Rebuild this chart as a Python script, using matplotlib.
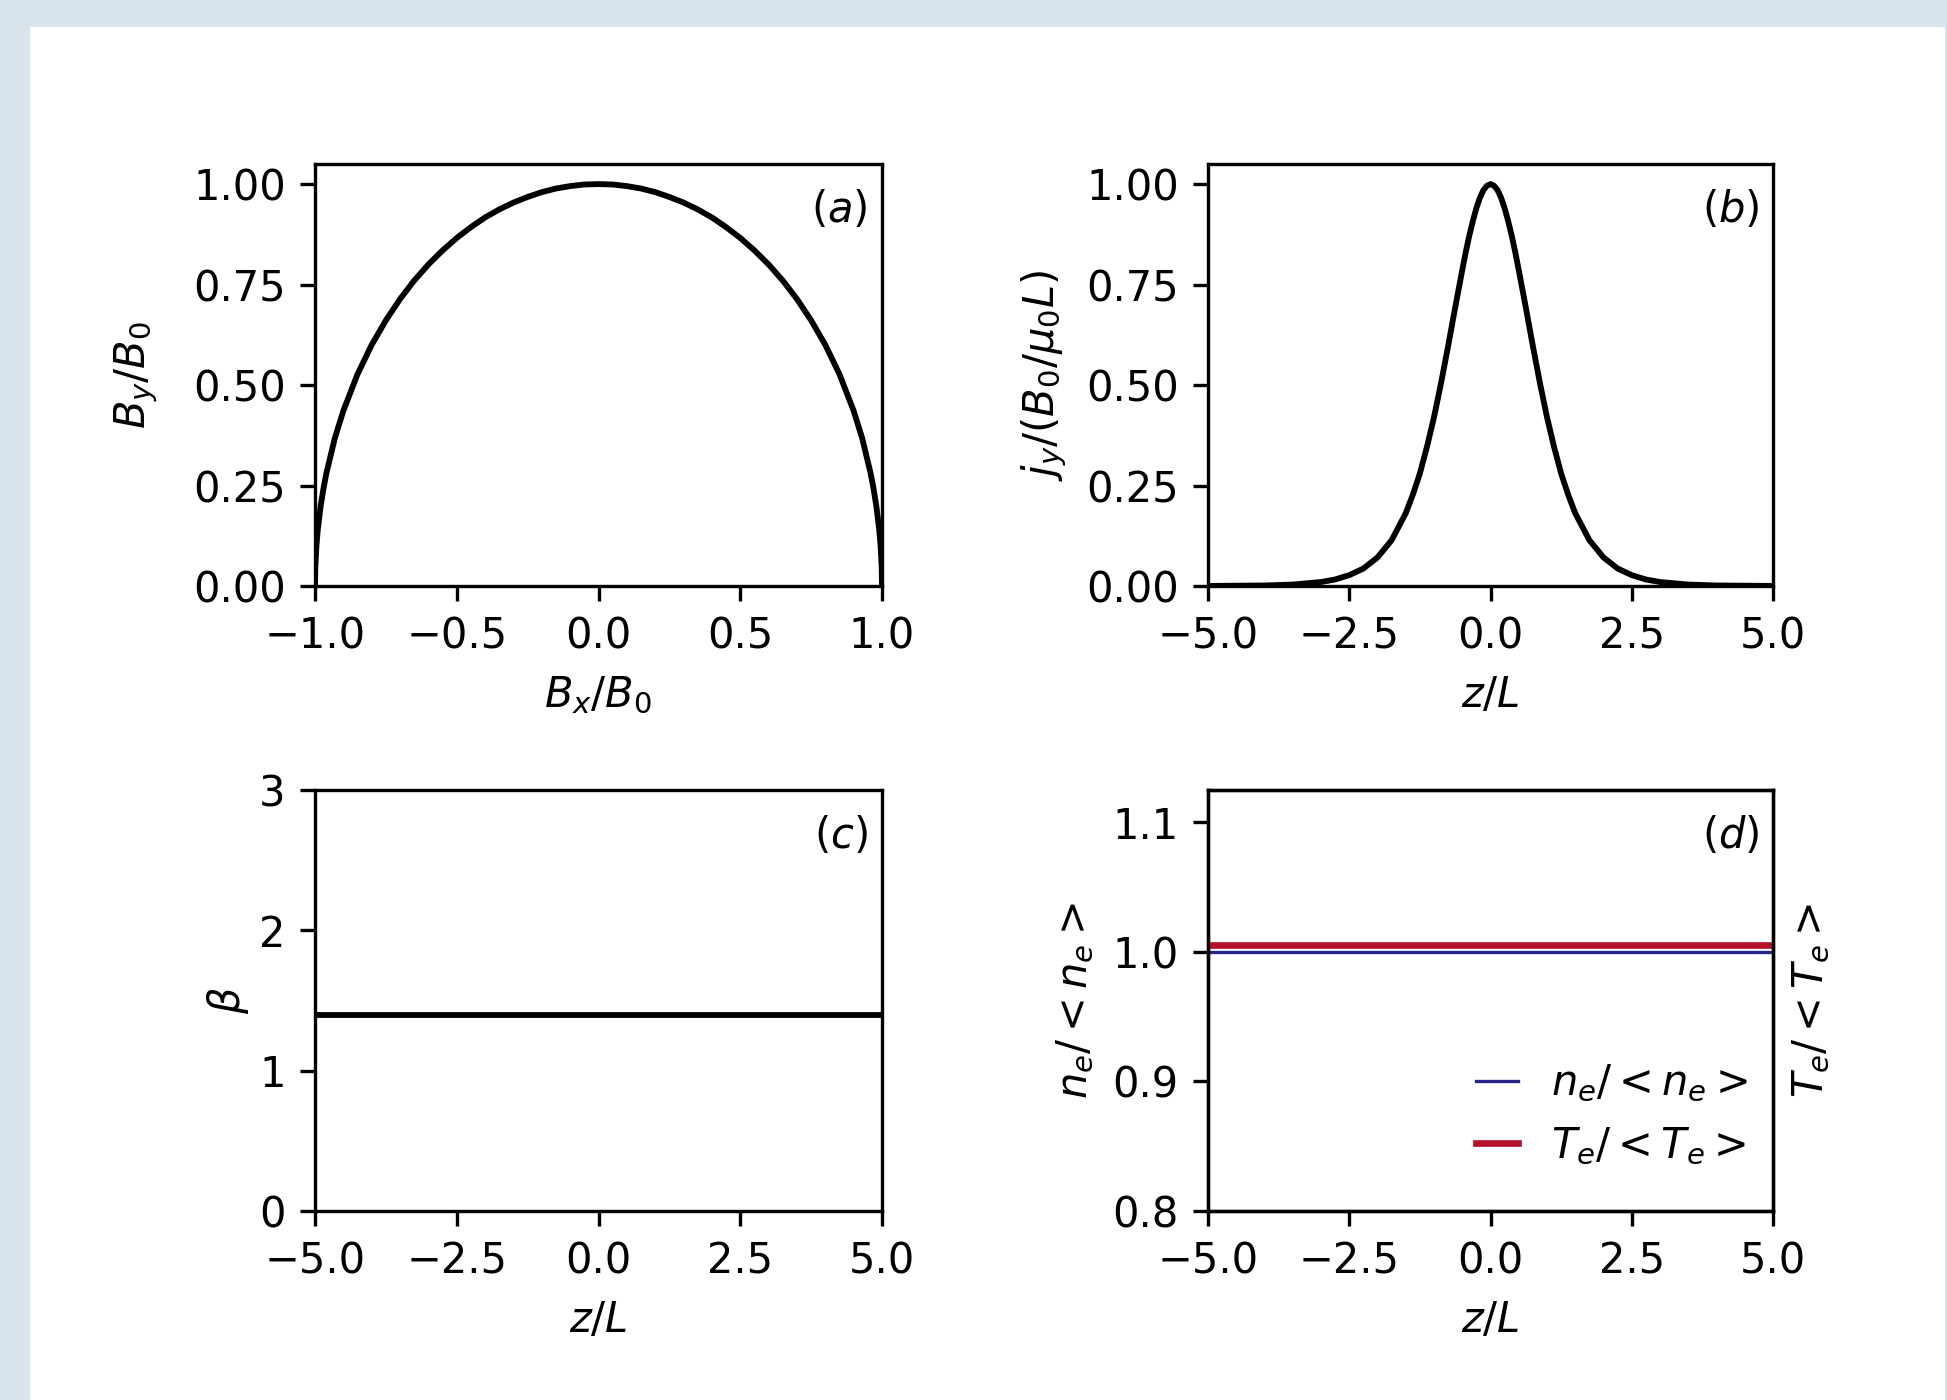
import numpy as np
import matplotlib
matplotlib.use("Agg")
import matplotlib.pyplot as plt
from matplotlib.patches import Rectangle

# (a) hodogram, values
bx = [-1.0, -0.999, -0.995, -0.99, -0.98, -0.97, -0.96, -0.93, -0.9, -0.85, -0.8,
      -0.75, -0.7, -0.65, -0.6, -0.55, -0.5, -0.45, -0.4, -0.35, -0.3, -0.25,
      -0.2, -0.15, -0.1, -0.05, 0.0, 0.05, 0.1, 0.15, 0.2, 0.25, 0.3, 0.35, 0.4,
      0.45, 0.5, 0.55, 0.6, 0.65, 0.7, 0.75, 0.8, 0.85, 0.9, 0.93, 0.96, 0.97,
      0.98, 0.99, 0.995, 0.999, 1.0]
by = [0.0, 0.045, 0.100, 0.141, 0.199, 0.243, 0.280, 0.368, 0.436, 0.527, 0.600,
      0.661, 0.714, 0.760, 0.800, 0.835, 0.866, 0.893, 0.917, 0.937, 0.954, 0.968,
      0.980, 0.989, 0.995, 0.999, 1.0, 0.999, 0.995, 0.989, 0.980, 0.968, 0.954,
      0.937, 0.917, 0.893, 0.866, 0.835, 0.800, 0.760, 0.714, 0.661, 0.600, 0.527,
      0.436, 0.368, 0.280, 0.243, 0.199, 0.141, 0.100, 0.045, 0.0]

# (b) current density profile
z_j = [-5.0, -4.0, -3.5, -3.0, -2.75, -2.5, -2.25, -2.0, -1.75, -1.5, -1.375,
       -1.25, -1.125, -1.0, -0.875, -0.75, -0.625, -0.5, -0.4375, -0.375, -0.3125,
       -0.25, -0.1875, -0.125, -0.0625, 0.0, 0.0625, 0.125, 0.1875, 0.25, 0.3125,
       0.375, 0.4375, 0.5, 0.625, 0.75, 0.875, 1.0, 1.125, 1.25, 1.375,
       1.5, 1.75, 2.0, 2.25, 2.5, 2.75, 3.0, 3.5, 4.0, 5.0]
jy = [0.0002, 0.0013, 0.0036, 0.0099, 0.0162, 0.027, 0.0435, 0.071, 0.114, 0.181,
      0.227, 0.280, 0.346, 0.420, 0.505, 0.597, 0.693, 0.786, 0.831, 0.872, 0.908,
      0.940, 0.966, 0.985, 0.996, 1.0, 0.996, 0.985, 0.966, 0.940, 0.908,
      0.872, 0.831, 0.786, 0.693, 0.597, 0.505, 0.420, 0.346, 0.280, 0.227,
      0.181, 0.114, 0.071, 0.0435, 0.027, 0.0162, 0.0099, 0.0036, 0.0013, 0.0002]

# (c) plasma beta, (d) density and temperature
z_flat = [-5.0, 5.0]
beta = [1.4, 1.4]
ne = [1.0, 1.0]
te = [1.005, 1.005]

fig = plt.figure(figsize=(1947 / 300, 1400 / 300), dpi=300, facecolor="#d9e3ec")
fig.patches.append(Rectangle((30 / 1947, 0), 1915 / 1947, 1 - 27 / 1400,
                             transform=fig.transFigure, facecolor="white",
                             edgecolor="none", zorder=-10))

W, H = 1947, 1400
def box(l, r, t, b):
    return [l / W, 1 - b / H, (r - l) / W, (b - t) / H]

ax_a = fig.add_axes(box(315, 882, 164, 586))
ax_b = fig.add_axes(box(1208, 1773, 164, 586))
ax_c = fig.add_axes(box(315, 882, 790, 1211))
ax_d = fig.add_axes(box(1208, 1773, 790, 1211))

ax_a.plot(bx, by, color="black", lw=1.4)
ax_a.set_xlim(-1, 1)
ax_a.set_ylim(0, 1.05)
ax_a.set_xticks([-1.0, -0.5, 0.0, 0.5, 1.0])
ax_a.set_yticks([0.0, 0.25, 0.5, 0.75, 1.0])
ax_a.set_xlabel("$B_x/B_0$")
ax_a.set_ylabel("$B_y/B_0$", labelpad=8)
ax_a.text(0.975, 0.89, "$(a)$", transform=ax_a.transAxes, ha="right", va="center")

ax_b.plot(z_j, jy, color="black", lw=1.4)
ax_b.set_xlim(-5, 5)
ax_b.set_ylim(0, 1.05)
ax_b.set_xticks([-5.0, -2.5, 0.0, 2.5, 5.0])
ax_b.set_yticks([0.0, 0.25, 0.5, 0.75, 1.0])
ax_b.set_xlabel("$z/L$")
ax_b.set_ylabel(r"$j_y/(B_0/\mu_0 L)$")
ax_b.text(0.975, 0.89, "$(b)$", transform=ax_b.transAxes, ha="right", va="center")

ax_c.plot(z_flat, beta, color="black", lw=1.4)
ax_c.set_xlim(-5, 5)
ax_c.set_ylim(0, 3)
ax_c.set_xticks([-5.0, -2.5, 0.0, 2.5, 5.0])
ax_c.set_yticks([0, 1, 2, 3])
ax_c.set_xlabel("$z/L$")
ax_c.set_ylabel(r"$\beta$", labelpad=2)
ax_c.text(0.975, 0.89, "$(c)$", transform=ax_c.transAxes, ha="right", va="center")

l1, = ax_d.plot(z_flat, ne, color="#26268a", lw=0.8, label="$n_e/<n_e>$")
ax_d.set_xlim(-5, 5)
ax_d.set_ylim(0.8, 1.125)
ax_d.set_xticks([-5.0, -2.5, 0.0, 2.5, 5.0])
ax_d.set_yticks([0.8, 0.9, 1.0, 1.1])
ax_d.set_xlabel("$z/L$")
ax_d.set_ylabel("$n_e/<n_e>$")
ax_d.text(0.975, 0.89, "$(d)$", transform=ax_d.transAxes, ha="right", va="center")

ax_t = ax_d.twinx()
l2, = ax_t.plot(z_flat, te, color="#b3122a", lw=1.6, label="$T_e/<T_e>$")
ax_t.set_ylim(0.8, 1.125)
ax_t.set_yticks([])
ax_t.set_ylabel("$T_e/<T_e>$", labelpad=4)
ax_t.legend(handles=[l1, l2], loc="lower right", frameon=False,
            handlelength=1.0, borderaxespad=0.2, bbox_to_anchor=(1.0, 0.045))

fig.savefig("out.png", dpi=300, facecolor=fig.get_facecolor())
